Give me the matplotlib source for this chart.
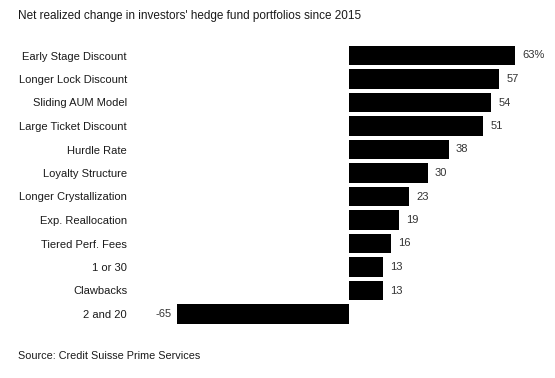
import matplotlib
matplotlib.use("Agg")
import matplotlib.pyplot as plt

categories = ["Early Stage Discount", "Longer Lock Discount", "Sliding AUM Model",
              "Large Ticket Discount", "Hurdle Rate", "Loyalty Structure",
              "Longer Crystallization", "Exp. Reallocation", "Tiered Perf. Fees",
              "1 or 30", "Clawbacks", "2 and 20"]
values = [63, 57, 54, 51, 38, 30, 23, 19, 16, 13, 13, -65]
value_labels = ["63%", "57", "54", "51", "38", "30", "23", "19", "16", "13", "13", "-65"]

plt.rcParams['font.family'] = ['Liberation Sans', 'DejaVu Sans']

W, H = 555, 378
fig = plt.figure(figsize=(W / 100, H / 100), dpi=100)
left_px, right_px = 177, 515
top_px, bot_px = 43.75, 325.75
ax = fig.add_axes([left_px / W, 1 - bot_px / H, (right_px - left_px) / W, (bot_px - top_px) / H])

y = list(range(len(categories)))
ax.barh(y, values, height=0.81, color='black')
ax.set_xlim(-65, 63)
ax.set_ylim(len(categories) - 0.5, -0.5)

ax.set_yticks(y)
ax.set_yticklabels(categories, fontsize=8, color='#1a1a1a')
ax.tick_params(axis='y', length=0, pad=36)
ax.set_xticks([])
for s in ax.spines.values():
    s.set_visible(False)

for yi, v, lab in zip(y, values, value_labels):
    if v >= 0:
        ax.annotate(lab, (v, yi), xytext=(5, 0), textcoords='offset points',
                    ha='left', va='center', fontsize=8, color='#333333')
    else:
        ax.annotate(lab, (v, yi), xytext=(-4, 0), textcoords='offset points',
                    ha='right', va='center', fontsize=8, color='#333333')

fig.text(18 / W, 1 - 16 / H, "Net realized change in investors' hedge fund portfolios since 2015",
         fontsize=8.5, color='#1a1a1a', ha='left', va='center')
fig.text(18 / W, 1 - 356 / H, "Source: Credit Suisse Prime Services",
         fontsize=7.8, color='#1a1a1a', ha='left', va='center')

fig.savefig("out.png", dpi=100)
